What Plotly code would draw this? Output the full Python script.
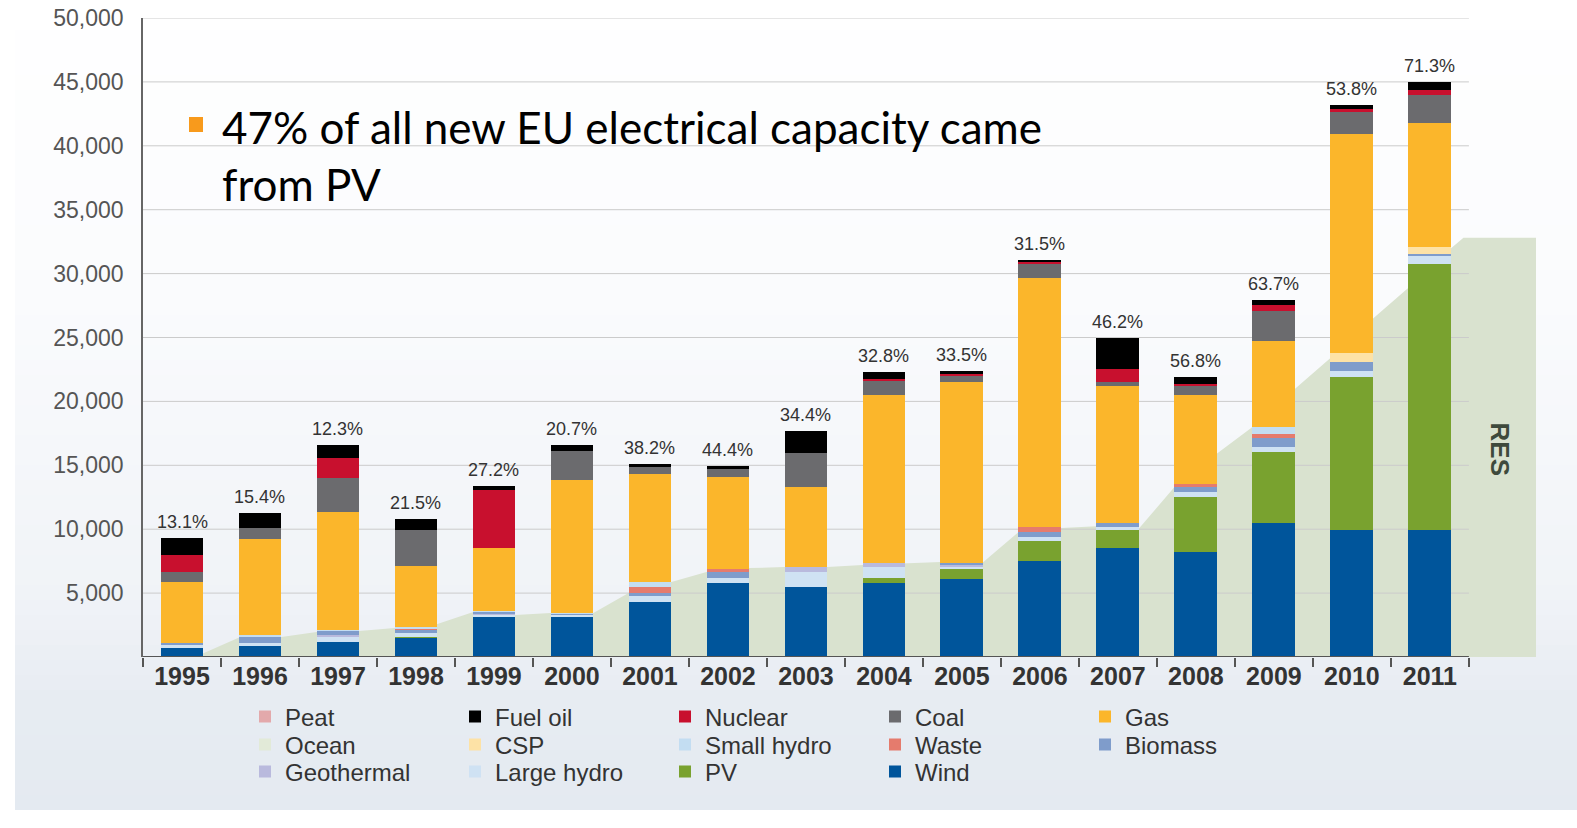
import plotly.graph_objects as go

# ---------------- data (MW of new capacity per year) ----------------
years = list(range(1995, 2012))

wind = [730, 860, 1200, 1540, 3100, 3100, 4330, 5760, 5500, 5810, 6080, 7530, 8500, 8230, 10500, 9900, 9950]
pv = [0, 0, 0, 30, 0, 0, 0, 0, 0, 340, 860, 1570, 1430, 4260, 5560, 11980, 20800]
large_hydro = [250, 260, 400, 300, 250, 200, 440, 390, 1170, 910, 100, 300, 250, 440, 390, 520, 610]
geothermal = [0, 0, 100, 0, 30, 0, 0, 0, 390, 320, 200, 0, 0, 0, 0, 0, 0]
biomass = [140, 470, 350, 250, 150, 80, 260, 520, 0, 0, 140, 400, 270, 340, 650, 700, 210]
waste = [0, 50, 0, 100, 0, 0, 420, 190, 0, 0, 0, 390, 0, 260, 340, 0, 0]
small_hydro = [0, 100, 50, 100, 100, 50, 440, 0, 0, 0, 0, 0, 0, 0, 570, 0, 0]
csp = [0, 0, 0, 0, 0, 0, 0, 0, 0, 0, 0, 0, 0, 0, 0, 670, 550]
ocean = [0, 0, 0, 0, 0, 0, 0, 0, 0, 0, 0, 0, 0, 0, 0, 0, 0]
gas = [4720, 7460, 9210, 4820, 4870, 10420, 8400, 7240, 6260, 13110, 14150, 19500, 10740, 7010, 6720, 17130, 9650]
coal = [830, 920, 2730, 2790, 0, 2290, 590, 580, 2680, 1090, 430, 1100, 340, 650, 2330, 1750, 2210]
nuclear = [1310, 0, 1570, 0, 4560, 0, 0, 0, 0, 210, 200, 120, 970, 210, 470, 240, 400]
fuel_oil = [1300, 1170, 960, 870, 310, 450, 190, 260, 1700, 520, 230, 190, 2470, 520, 390, 310, 650]
peat = [0, 0, 0, 0, 0, 0, 0, 0, 0, 0, 0, 0, 0, 0, 0, 0, 0]

res_share_labels = ["13.1%", "15.4%", "12.3%", "21.5%", "27.2%", "20.7%", "38.2%", "44.4%", "34.4%",
                    "32.8%", "33.5%", "31.5%", "46.2%", "56.8%", "63.7%", "53.8%", "71.3%"]

# height of the RES background band at the left / right edge of each bar
res_band_left = [0, 1500, 1950, 2270, 3500, 3440, 5000, 6650, 7040, 7200, 7430, 9780, 10240, 13300, 18000, 23400, 28900]
res_band_right = [300, 1560, 2030, 2580, 3280, 3440, 5870, 6960, 7040, 7350, 7430, 10090, 10090, 15950, 21000, 26500, 32000]
res_band_tail = 32800

y_ticks = [5000, 10000, 15000, 20000, 25000, 30000, 35000, 40000, 45000, 50000]

bullet_lines = "47% of all new EU electrical capacity came<br>from PV"
res_label = "RES"

# ---------------- styling ----------------
SANS = "Liberation Sans, Arial, sans-serif"
BAR_W = 0.55
HW = BAR_W / 2
X_RANGE = [1994.5, 2012.45]
Y_RANGE = [0, 50000]
TAIL_X = (0.43, 1.36)  # offsets after the last bar where the RES band flattens / ends

series = [  # bottom -> top of the stack
    ("Wind", wind, "#00559b", "legend3"),
    ("PV", pv, "#79a22f", "legend3"),
    ("Large hydro", large_hydro, "#cfe2f3", "legend3"),
    ("Geothermal", geothermal, "#b9badd", "legend3"),
    ("Biomass", biomass, "#7f9ccb", "legend2"),
    ("Waste", waste, "#e57b6d", "legend2"),
    ("Small hydro", small_hydro, "#c3ddf2", "legend2"),
    ("CSP", csp, "#fde2a6", "legend2"),
    ("Ocean", ocean, "#e2ead8", "legend2"),
    ("Gas", gas, "#fbb62b", "legend"),
    ("Coal", coal, "#6b6b6e", "legend"),
    ("Nuclear", nuclear, "#c8102e", "legend"),
    ("Fuel oil", fuel_oil, "#000000", "legend"),
    ("Peat", peat, "#e3a9ab", "legend"),
]

totals = [sum(s[1][i] for s in series) for i in range(len(years))]

fig = go.Figure()

# RES background band (base subplot, behind the bars)
band_x, band_y = [], []
for i, yr in enumerate(years):
    band_x += [yr - HW, yr + HW]
    band_y += [res_band_left[i], res_band_right[i]]
band_x += [years[-1] + TAIL_X[0], years[-1] + TAIL_X[1], years[-1] + TAIL_X[1]]
band_y += [res_band_tail, res_band_tail, 0]
fig.add_trace(go.Scatter(x=band_x, y=band_y, mode="lines", fill="tozeroy",
                         fillcolor="#d9e2cf", line=dict(width=0, color="#d9e2cf"),
                         showlegend=False, hoverinfo="skip", xaxis="x", yaxis="y"))

# horizontal grid lines (drawn over the band, under the bars)
gx, gy = [], []
for v in y_ticks:
    gx += [X_RANGE[0], years[-1] + 0.5, None]
    gy += [v, v, None]
fig.add_trace(go.Scatter(x=gx, y=gy, mode="lines", line=dict(color="#cbcbcb", width=1),
                         showlegend=False, hoverinfo="skip", xaxis="x", yaxis="y"))

# stacked bars on the overlaying subplot
for name, vals, color, leg in series:
    fig.add_trace(go.Bar(x=years, y=vals, name=name, width=BAR_W,
                         marker=dict(color=color, line=dict(width=0)),
                         legend=leg, xaxis="x2", yaxis="y2"))

# RES share labels above bars
for yr, tot, lab in zip(years, totals, res_share_labels):
    fig.add_annotation(x=yr, y=tot, xref="x", yref="y", text=lab, showarrow=False,
                       yanchor="bottom", yshift=4,
                       font=dict(family=SANS, size=18, color="#333333"))

# RES label
fig.add_annotation(x=years[-1] + 0.9, y=16300, xref="x", yref="y", text=res_label,
                   showarrow=False, textangle=90,
                   font=dict(family=SANS, size=26, color="#3e4a3c", weight="bold"))

# ---------------- layout geometry helpers ----------------
L, R, T, B = 143, 34, 18, 171
W, H = 1577, 828
PW, PH = W - L - R, H - T - B


def px_x(px):
    return (px - L) / PW


def px_y(py):
    return (H - B - py) / PH


# background gradient
stops = [(0, (255, 255, 255)), (300, (250, 251, 253)), (600, (240, 243, 247)),
         (700, (231, 236, 242)), (810, (228, 234, 241))]


def col_at(py):
    for (a, ca), (b, cb) in zip(stops[:-1], stops[1:]):
        if a <= py <= b:
            t = (py - a) / (b - a)
            return "rgb(%d,%d,%d)" % tuple(round(ca[k] + (cb[k] - ca[k]) * t) for k in range(3))
    return "rgb(%d,%d,%d)" % stops[-1][1]


shapes = []
step = 15
for py in range(0, 810, step):
    shapes.append(dict(type="rect", xref="paper", yref="paper", layer="below",
                       x0=px_x(15), x1=px_x(W + 5), y0=px_y(min(py + step, 810)), y1=px_y(py),
                       fillcolor=col_at(py + step / 2), line=dict(width=0)))

# x axis baseline
shapes.append(dict(type="line", xref="x", yref="y", x0=X_RANGE[0], x1=years[-1] + 0.5, y0=0, y1=0,
                   line=dict(color="#555555", width=2), layer="above"))

# bullet square
shapes.append(dict(type="rect", xref="paper", yref="paper", x0=px_x(189), x1=px_x(203),
                   y0=px_y(132), y1=px_y(117), fillcolor="#f89a1c", line=dict(width=0), layer="above"))

fig.add_annotation(xref="paper", yref="paper", x=px_x(220), y=px_y(155), xanchor="left", yanchor="middle",
                   text=bullet_lines, showarrow=False, align="left",
                   font=dict(family="Lato, Carlito, Calibri, sans-serif", size=44, color="#000000"))

legend_common = dict(orientation="h", xanchor="left", yanchor="middle", traceorder="reversed",
                     entrywidth=165, entrywidthmode="pixels", bgcolor="rgba(0,0,0,0)",
                     font=dict(family=SANS, size=24, color="#333333"), x=px_x(245))

fig.update_layout(
    width=W, height=H,
    margin=dict(l=L, r=R, t=T, b=B, pad=0, autoexpand=False),
    paper_bgcolor="#ffffff", plot_bgcolor="rgba(0,0,0,0)",
    barmode="stack", bargap=0,
    hovermode=False,
    shapes=shapes,
    xaxis=dict(range=X_RANGE, tickmode="array", tickvals=years, ticktext=[str(y) for y in years],
               showgrid=False, zeroline=False, showline=False, ticks="", automargin=False,
               tickfont=dict(family=SANS, size=25, color="#333333", weight="bold"),
               ticklabelstandoff=2,
               minor=dict(tickmode="array", tickvals=[years[0] - 0.5 + i for i in range(len(years) + 1)],
                          ticks="outside", ticklen=9, tickwidth=1.5, tickcolor="#555555", showgrid=False)),
    yaxis=dict(range=Y_RANGE, tickmode="array", tickvals=y_ticks, tickformat=",d",
               showgrid=False, zeroline=False, showline=True, linecolor="#666666", linewidth=1.5,
               ticks="", ticklabelstandoff=13, automargin=False,
               tickfont=dict(family=SANS, size=23, color="#555555")),
    xaxis2=dict(range=X_RANGE, overlaying="x", visible=False),
    yaxis2=dict(range=Y_RANGE, overlaying="y", visible=False),
    legend=dict(legend_common, y=px_y(717)),
    legend2=dict(legend_common, y=px_y(745)),
    legend3=dict(legend_common, y=px_y(772)),
)

fig.write_html("out.html")
